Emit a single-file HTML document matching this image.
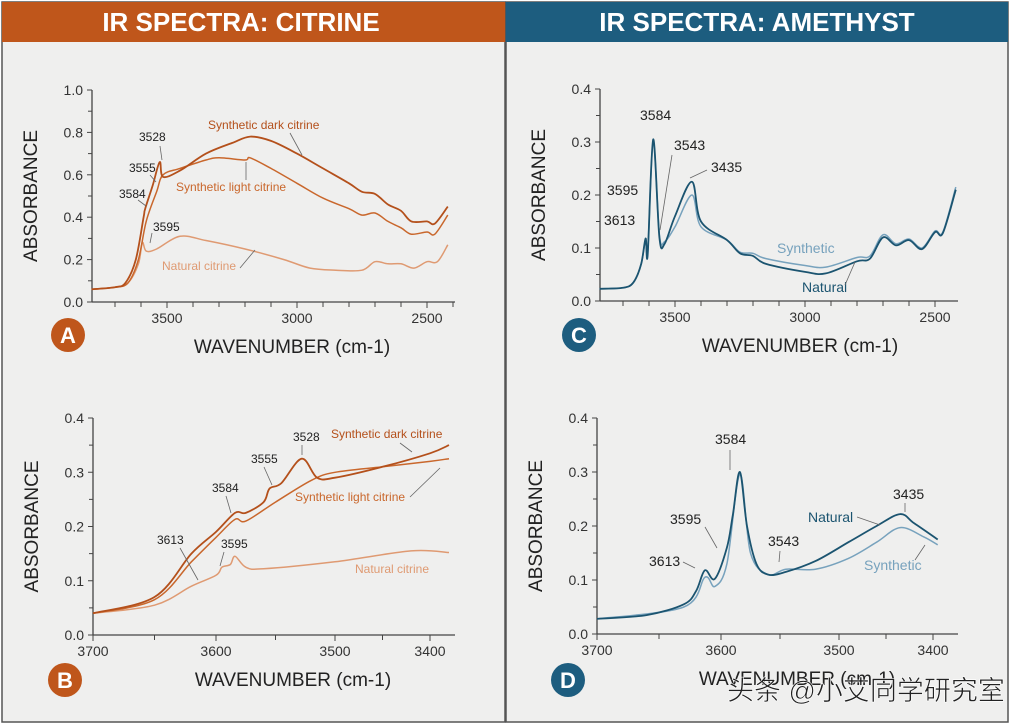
<!DOCTYPE html>
<html><head><meta charset="utf-8"><style>
body{margin:0;background:#fff;}
svg{display:block;font-family:"Liberation Sans","Noto Sans CJK SC",sans-serif;}
</style></head><body>
<svg id="s" width="1011" height="726" viewBox="0 0 1011 726" xmlns="http://www.w3.org/2000/svg">
<rect x="0" y="0" width="1011" height="726" fill="#ffffff"/>
<rect x="2" y="2" width="503" height="720" fill="#efefee" stroke="#555" stroke-width="1.5"/>
<rect x="506" y="2" width="502" height="720" fill="#efefee" stroke="#555" stroke-width="1.5"/>
<rect x="2" y="2" width="503" height="40" fill="#bf561b"/>
<rect x="506" y="2" width="502" height="40" fill="#1d5d7f"/>
<text x="241" y="31" text-anchor="middle" font-size="26" font-weight="bold" fill="#fff">IR SPECTRA: CITRINE</text>
<text x="757" y="31" text-anchor="middle" font-size="26" font-weight="bold" fill="#fff">IR SPECTRA: AMETHYST</text>
<g id="g"></g>
</svg>
<script>
// ---- data: panel A (citrine, broad range) ----
const aDarkWn=[3790,3700,3660,3620,3590,3584,3555,3528,3515,3450,3350,3250,3180,3100,3000,2900,2800,2750,2700,2650,2600,2560,2500,2470,2420];
const aDarkAbs=[0.06,0.07,0.09,0.2,0.4,0.44,0.55,0.66,0.59,0.62,0.7,0.75,0.78,0.76,0.7,0.63,0.56,0.52,0.51,0.46,0.43,0.38,0.38,0.37,0.45];
const aLightWn=[3790,3700,3650,3610,3580,3540,3515,3450,3350,3300,3200,3180,3100,3000,2900,2800,2750,2700,2650,2600,2560,2500,2470,2420];
const aLightAbs=[0.06,0.07,0.09,0.2,0.38,0.52,0.6,0.63,0.67,0.68,0.67,0.68,0.63,0.56,0.49,0.44,0.41,0.42,0.38,0.35,0.32,0.33,0.32,0.41];
const aNatWn=[3790,3700,3650,3610,3595,3580,3540,3450,3350,3200,3050,2950,2850,2750,2700,2650,2600,2550,2500,2460,2420];
const aNatAbs=[0.06,0.07,0.09,0.18,0.28,0.24,0.25,0.31,0.29,0.25,0.2,0.16,0.15,0.15,0.19,0.18,0.18,0.16,0.19,0.19,0.27];
// ---- panel C (amethyst, broad range) ----
const cNatWn=[3790,3700,3660,3630,3613,3605,3584,3560,3540,3500,3435,3400,3300,3250,3200,3150,3000,2920,2800,2750,2700,2650,2600,2550,2500,2470,2420];
const cNatAbs=[0.023,0.025,0.035,0.07,0.118,0.088,0.305,0.12,0.108,0.16,0.225,0.15,0.115,0.09,0.085,0.07,0.055,0.052,0.075,0.08,0.12,0.105,0.115,0.098,0.13,0.128,0.21];
const cSynWn=[3790,3700,3660,3630,3613,3605,3584,3560,3540,3500,3435,3400,3300,3250,3200,3150,3000,2920,2800,2750,2700,2650,2600,2550,2500,2470,2420];
const cSynAbs=[0.023,0.025,0.035,0.07,0.115,0.09,0.3,0.125,0.112,0.14,0.2,0.14,0.115,0.092,0.09,0.08,0.067,0.064,0.082,0.085,0.125,0.108,0.117,0.1,0.132,0.13,0.215];
// ---- panel B (citrine zoom) ----
const bDarkWn=[3700,3650,3620,3600,3584,3575,3560,3555,3545,3528,3515,3500,3450,3400,3380];
const bDarkAbs=[0.04,0.07,0.15,0.19,0.225,0.225,0.245,0.27,0.28,0.325,0.29,0.29,0.31,0.335,0.35];
const bLightWn=[3700,3650,3620,3600,3584,3575,3550,3520,3500,3450,3400,3380];
const bLightAbs=[0.04,0.065,0.135,0.18,0.213,0.21,0.245,0.285,0.3,0.31,0.32,0.325];
const bNatWn=[3700,3650,3620,3600,3595,3588,3584,3575,3560,3500,3420,3380];
const bNatAbs=[0.04,0.055,0.09,0.11,0.125,0.13,0.145,0.125,0.122,0.135,0.155,0.152];
// ---- panel D (amethyst zoom) ----
const dNatWn=[3700,3660,3630,3620,3613,3605,3595,3590,3584,3578,3570,3560,3545,3520,3490,3460,3435,3420,3395];
const dNatAbs=[0.028,0.035,0.055,0.08,0.118,0.102,0.16,0.22,0.3,0.2,0.13,0.11,0.115,0.135,0.17,0.2,0.222,0.205,0.175];
const dSynWn=[3700,3630,3613,3605,3595,3584,3575,3560,3545,3520,3490,3460,3435,3410,3395];
const dSynAbs=[0.028,0.05,0.105,0.088,0.13,0.295,0.15,0.11,0.12,0.12,0.14,0.17,0.197,0.18,0.165];
// tick labels
const broadTicks=[3500,3000,2500];
const broadMinor=[3700,3600,3500,3400,3300,3200,3100,3000,2900,2800,2700,2600,2500,2400];
const zoomTicks=[3700,3600,3500,3400];
const zoomMinor=[3650,3550,3450];
const aYTicks=[0,0.2,0.4,0.6,0.8,1.0];
const cYTicks=[0,0.1,0.2,0.3,0.4];

const NS="http://www.w3.org/2000/svg";
const G=document.getElementById('g');
function el(t,a,txt){const e=document.createElementNS(NS,t);for(const k in a)e.setAttribute(k,a[k]);if(txt!==undefined)e.textContent=txt;G.appendChild(e);return e;}
function interp(d,r,v){for(let i=0;i<d.length-1;i++){const a=d[i],b=d[i+1];if((v<=a&&v>=b)||i===d.length-2){return r[i]+(v-a)/(b-a)*(r[i+1]-r[i]);}}return r[0];}
function smooth(pts){let d='M'+pts[0][0].toFixed(1)+','+pts[0][1].toFixed(1);
  for(let i=0;i<pts.length-1;i++){const p0=pts[Math.max(0,i-1)],p1=pts[i],p2=pts[i+1],p3=pts[Math.min(pts.length-1,i+2)];
    const c1x=p1[0]+(p2[0]-p0[0])/6,c1y=p1[1]+(p2[1]-p0[1])/6,c2x=p2[0]-(p3[0]-p1[0])/6,c2y=p2[1]-(p3[1]-p1[1])/6;
    d+=` C${c1x.toFixed(1)},${c1y.toFixed(1)} ${c2x.toFixed(1)},${c2y.toFixed(1)} ${p2[0].toFixed(1)},${p2[1].toFixed(1)}`;}
  return d;}

function panel(p){
  const X=v=>interp(p.xd,p.xr,v);
  const Y=v=>p.y0+(p.y1-p.y0)*v/p.ymax;
  const ax=el('line',{x1:p.ax,y1:p.y1,x2:p.ax,y2:p.y0,stroke:'#444','stroke-width':1.3});
  
  
  const bx=el('line',{x1:p.ax,y1:p.y0,x2:p.xend,y2:p.y0,stroke:'#444','stroke-width':1.3});
  
  
  p.yt.forEach(v=>{
    el('line',{x1:p.ax-5,y1:Y(v),x2:p.ax,y2:Y(v),stroke:'#444'});
    const t=el('text',{x:p.ax-9,y:Y(v)+5,'text-anchor':'end','font-size':14,fill:'#333'},v.toFixed(1));
    
    
  });
  for(let i=0;i<p.yt.length-1;i++){const m=(p.yt[i]+p.yt[i+1])/2;el('line',{x1:p.ax-4,y1:Y(m),x2:p.ax,y2:Y(m),stroke:'#444'});}
  p.minor.forEach(v=>{const x=X(v);if(x>p.ax+2&&x<p.xend)el('line',{x1:x,y1:p.y0,x2:x,y2:p.y0+5,stroke:'#444'});});
  p.xt.forEach(v=>{
    el('line',{x1:X(v),y1:p.y0,x2:X(v),y2:p.y0+6,stroke:'#444'});
    const t=el('text',{x:X(v),y:p.y0+21,'text-anchor':'middle','font-size':14,fill:'#333'},String(v));
    
    
  });
  const yl=el('text',{x:0,y:0,transform:`translate(${p.ax-55},${(p.y0+p.y1)/2}) rotate(-90)`,'text-anchor':'middle','font-size':19,fill:'#222'},'ABSORBANCE');
  
  
  const xl=el('text',{x:p.ax+200,y:p.y0+51,'text-anchor':'middle','font-size':19,fill:'#222'},'WAVENUMBER (cm-1)');
  
  
  p.series.forEach(s=>{
    const pts=s.wn.map((w,i)=>[X(w),Y(s.ab[i])]);
    const pa=el('path',{d:smooth(pts),fill:'none',stroke:s.c,'stroke-width':s.w||1.5,'stroke-linejoin':'round'});
    
    
  });
  const c=el('circle',{cx:p.badge[0],cy:p.badge[1],r:17,fill:p.bc});
  
  
  el('text',{x:p.badge[0],y:p.badge[1]+8,'text-anchor':'middle','font-size':22,'font-weight':'bold',fill:'#fff'},p.letter);
}
const OD='#b4501b',OL='#c9672c',ON='#df9a72',BN='#1b5470',BS='#77a2bd';
panel({id:'a',xd:[3500,3000,2500],xr:[167,297,427],ax:92,xend:455,y0:302,y1:90,ymax:1.0,yt:aYTicks,xt:broadTicks,minor:broadMinor,badge:[68,335],bc:'#bf561b',letter:'A',
  series:[{wn:aNatWn,ab:aNatAbs,c:ON,name:'natural-citrine-line'},{wn:aLightWn,ab:aLightAbs,c:OL,name:'synthetic-light-citrine-line'},{wn:aDarkWn,ab:aDarkAbs,c:OD,w:1.8,name:'synthetic-dark-citrine-line'}]});
panel({id:'c',xd:[3500,3000,2500],xr:[675,805,935],ax:600,xend:958,y0:301,y1:89,ymax:0.4,yt:cYTicks,xt:broadTicks,minor:broadMinor,badge:[579,335],bc:'#1d5d7f',letter:'C',
  series:[{wn:cSynWn,ab:cSynAbs,c:BS,name:'synthetic-amethyst-line'},{wn:cNatWn,ab:cNatAbs,c:BN,w:1.8,name:'natural-amethyst-line'}]});
panel({id:'b',xd:[3700,3600,3500,3400],xr:[93,216,335,430],ax:93,xend:455,y0:635,y1:418,ymax:0.4,yt:cYTicks,xt:zoomTicks,minor:zoomMinor,badge:[65,680],bc:'#bf561b',letter:'B',
  series:[{wn:bNatWn,ab:bNatAbs,c:ON,name:'natural-citrine-line'},{wn:bLightWn,ab:bLightAbs,c:OL,name:'synthetic-light-citrine-line'},{wn:bDarkWn,ab:bDarkAbs,c:OD,w:1.8,name:'synthetic-dark-citrine-line'}]});
panel({id:'d',xd:[3700,3600,3500,3400],xr:[597,721,839,933],ax:597,xend:958,y0:634,y1:418,ymax:0.4,yt:cYTicks,xt:zoomTicks,minor:zoomMinor,badge:[568,680],bc:'#1d5d7f',letter:'D',
  series:[{wn:dSynWn,ab:dSynAbs,c:BS,name:'synthetic-amethyst-line'},{wn:dNatWn,ab:dNatAbs,c:BN,w:1.8,name:'natural-amethyst-line'}]});

function ann(x,y,t,col,fs,name){const e=el('text',{x:x,y:y,'font-size':fs||12,fill:col||'#222'},t);}
function ld(x1,y1,x2,y2,c){el('line',{x1:x1,y1:y1,x2:x2,y2:y2,stroke:c||'#666','stroke-width':0.8});}
// A
ann(208,129,'Synthetic dark citrine',OD,12,'label-synthetic-dark');ld(290,133,302,155);
ann(176,191,'Synthetic light citrine',OL,12,'label-synthetic-light');ld(246,180,246,162);
ann(162,270,'Natural citrine',ON,12,'label-natural');ld(240,268,255,250);
ann(139,141,'3528','#222',12,'label-3528');ld(160,146,162,160);
ann(129,172,'3555','#222',12,'label-3555');ld(150,175,156,182);
ann(119,198,'3584','#222',12,'label-3584');ld(138,200,146,206);
ann(153,231,'3595','#222',12,'label-3595');ld(152,233,150,243);
// C
ann(640,120,'3584','#222',14,'label-3584');
ann(674,150,'3543','#222',14,'label-3543');ld(672,155,660,230);
ann(711,172,'3435','#222',14,'label-3435');ld(707,170,690,178);
ann(607,195,'3595','#222',14,'label-3595');
ann(604,225,'3613','#222',14,'label-3613');
ann(777,253,'Synthetic',BS,14,'label-synthetic');
ann(802,292,'Natural',BN,14,'label-natural');ld(845,285,855,262);
// B
ann(331,438,'Synthetic dark citrine',OD,12,'label-synthetic-dark');ld(400,443,412,452);
ann(295,501,'Synthetic light citrine',OL,12,'label-synthetic-light');ld(410,497,440,468);
ann(355,573,'Natural citrine',ON,12,'label-natural');
ann(293,441,'3528','#222',12,'label-3528');ld(302,445,302,455);
ann(251,463,'3555','#222',12,'label-3555');ld(264,467,272,485);
ann(212,492,'3584','#222',12,'label-3584');ld(226,496,231,513);
ann(157,544,'3613','#222',12,'label-3613');ld(180,548,198,580);
ann(221,548,'3595','#222',12,'label-3595');ld(224,552,220,566);
// D
ann(715,444,'3584','#222',14,'label-3584');ld(730,450,730,470);
ann(670,524,'3595','#222',14,'label-3595');ld(705,527,717,548);
ann(649,566,'3613','#222',14,'label-3613');ld(683,562,695,568);
ann(768,546,'3543','#222',14,'label-3543');ld(780,551,779,562);
ann(893,499,'3435','#222',14,'label-3435');ld(905,503,905,512);
ann(808,522,'Natural',BN,14,'label-natural');ld(857,517,880,525);
ann(864,570,'Synthetic',BS,14,'label-synthetic');ld(915,560,925,545);
const w=el('text',{x:727,y:700,'font-size':27,fill:'#222',stroke:'#fff','stroke-width':0.6},'头条 @小艾同学研究室');


</script>
</body></html>
